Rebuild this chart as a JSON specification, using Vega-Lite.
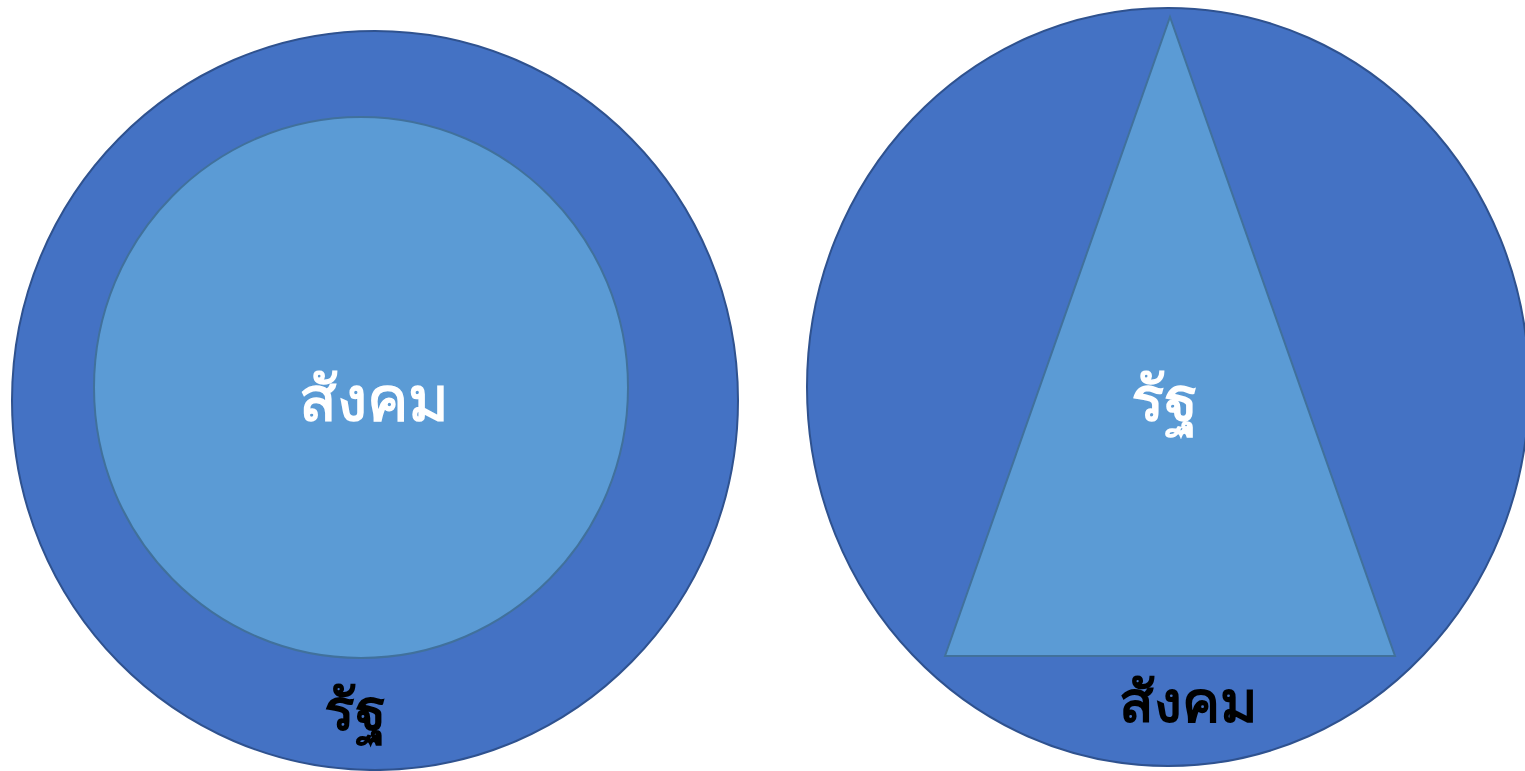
{
  "$schema": "https://vega.github.io/schema/vega-lite/v6.json",
  "autosize": {"type": "none"},
  "width": 1525,
  "height": 771,
  "padding": 0,
  "background": "white",
  "config": {"view": {"stroke": null}},
  "datasets": {
    "ellipses": [
      {"name": "outer_left", "cx": 375, "cy": 400.5},
      {"name": "inner_left", "cx": 361, "cy": 387.5},
      {"name": "outer_right", "cx": 1168, "cy": 387}
    ],
    "triangle": [
      {"x": 945, "top": 656, "base": 656},
      {"x": 1170, "top": 17, "base": 656},
      {"x": 1395, "top": 656, "base": 656}
    ],
    "labels": [
      {"label": "สังคม", "x": 374, "y": 421, "role": "inner"},
      {"label": "รัฐ", "x": 355, "y": 730, "role": "outer"},
      {"label": "รัฐ", "x": 1164, "y": 421, "role": "inner"},
      {"label": "สังคม", "x": 1188, "y": 722, "role": "outer"}
    ]
  },
  "layer": [
    {
      "data": {"name": "ellipses"},
      "transform": [{"filter": "datum.name === 'outer_left'"}],
      "mark": {"type": "point", "filled": true, "shape": "M -1 0 A 1 1.018 0 1 1 1 0 A 1 1.018 0 1 1 -1 0 Z", "size": 527076, "fill": "#4472C4", "stroke": "#2F528F", "strokeWidth": 2, "opacity": 1, "fillOpacity": 1},
      "encoding": {
        "x": {"field": "cx", "type": "quantitative", "scale": {"domain": [0, 1525]}, "axis": null},
        "y": {"field": "cy", "type": "quantitative", "scale": {"domain": [0, 771], "reverse": true}, "axis": null}
      }
    },
    {
      "data": {"name": "ellipses"},
      "transform": [{"filter": "datum.name === 'inner_left'"}],
      "mark": {"type": "point", "filled": true, "shape": "M -1 0 A 1 1.013 0 1 1 1 0 A 1 1.013 0 1 1 -1 0 Z", "size": 285156, "fill": "#5B9BD5", "stroke": "#41719C", "strokeWidth": 2, "opacity": 1, "fillOpacity": 1},
      "encoding": {
        "x": {"field": "cx", "type": "quantitative", "scale": {"domain": [0, 1525]}, "axis": null},
        "y": {"field": "cy", "type": "quantitative", "scale": {"domain": [0, 771], "reverse": true}, "axis": null}
      }
    },
    {
      "data": {"name": "ellipses"},
      "transform": [{"filter": "datum.name === 'outer_right'"}],
      "mark": {"type": "point", "filled": true, "shape": "M -1 0 A 1 1.05 0 1 1 1 0 A 1 1.05 0 1 1 -1 0 Z", "size": 521284, "fill": "#4472C4", "stroke": "#2F528F", "strokeWidth": 2, "opacity": 1, "fillOpacity": 1},
      "encoding": {
        "x": {"field": "cx", "type": "quantitative", "scale": {"domain": [0, 1525]}, "axis": null},
        "y": {"field": "cy", "type": "quantitative", "scale": {"domain": [0, 771], "reverse": true}, "axis": null}
      }
    },
    {
      "data": {"name": "triangle"},
      "mark": {"type": "area", "fill": "#5B9BD5", "stroke": "#41719C", "strokeWidth": 2, "opacity": 1, "fillOpacity": 1},
      "encoding": {
        "x": {"field": "x", "type": "quantitative", "scale": {"domain": [0, 1525]}, "axis": null},
        "y": {"field": "top", "type": "quantitative", "scale": {"domain": [0, 771], "reverse": true}, "axis": null},
        "y2": {"field": "base"}
      }
    },
    {
      "data": {"name": "labels"},
      "transform": [{"filter": "datum.role === 'inner'"}],
      "mark": {"type": "text", "font": "Noto Sans", "fontSize": 62, "fontWeight": 500, "fill": "white", "stroke": "white", "strokeWidth": 1.6, "align": "center", "baseline": "alphabetic"},
      "encoding": {
        "x": {"field": "x", "type": "quantitative", "scale": {"domain": [0, 1525]}, "axis": null},
        "y": {"field": "y", "type": "quantitative", "scale": {"domain": [0, 771], "reverse": true}, "axis": null},
        "text": {"field": "label"}
      }
    },
    {
      "data": {"name": "labels"},
      "transform": [{"filter": "datum.role === 'outer'"}],
      "mark": {"type": "text", "font": "Noto Sans", "fontSize": 57, "fontWeight": "bold", "fill": "black", "align": "center", "baseline": "alphabetic"},
      "encoding": {
        "x": {"field": "x", "type": "quantitative", "scale": {"domain": [0, 1525]}, "axis": null},
        "y": {"field": "y", "type": "quantitative", "scale": {"domain": [0, 771], "reverse": true}, "axis": null},
        "text": {"field": "label"}
      }
    }
  ]
}
